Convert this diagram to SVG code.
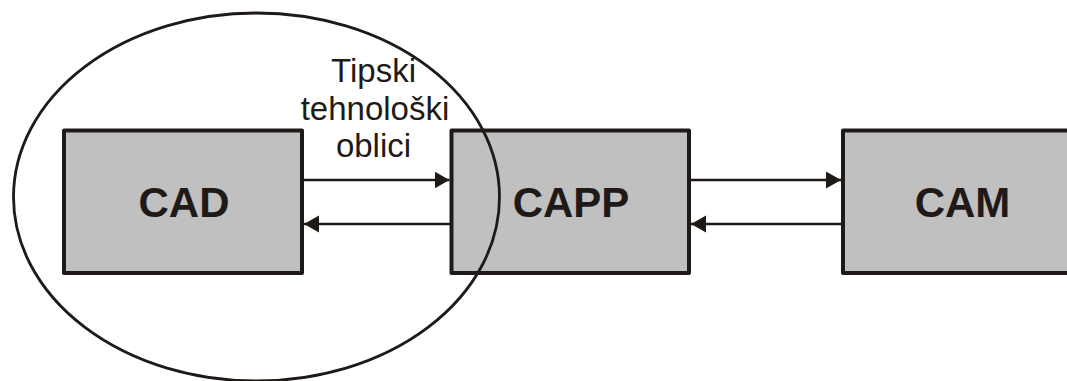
<svg xmlns="http://www.w3.org/2000/svg" width="1067" height="381" viewBox="0 0 1067 381">
  <style>
    .box { fill: #c0c0c0; stroke: #1f1a17; stroke-width: 4; stroke-linejoin: round; }
    .title { font-family: "Liberation Sans", Arial, sans-serif; font-weight: bold; font-size: 42px; fill: #1f1a17; text-anchor: middle; }
    .label { font-family: "Liberation Sans", Arial, sans-serif; font-size: 33px; fill: #1f1a17; text-anchor: middle; }
    .link { fill: none; stroke: #1f1a17; stroke-width: 2.6; marker-end: url(#head); }
    .scope { fill: none; stroke: #1f1a17; stroke-width: 2.8; }
  </style>
  <defs>
    <marker id="head" markerUnits="userSpaceOnUse" markerWidth="16" markerHeight="18" refX="15" refY="8.5" orient="auto">
      <path d="M0,0 L15,8.5 L0,17 Z" fill="#1f1a17"/>
    </marker>
  </defs>
  <rect width="1067" height="381" fill="#ffffff"/>

  <g id="cad">
    <rect class="box" x="64" y="130.5" width="238" height="142.5"/>
    <text class="title" x="184" y="217">CAD</text>
  </g>

  <g id="capp">
    <rect class="box" x="451.5" y="130.5" width="237.5" height="142.5"/>
    <text class="title" x="571" y="216.5">CAPP</text>
  </g>

  <g id="cam">
    <rect class="box" x="843" y="130.5" width="240" height="142.5"/>
    <text class="title" x="962.5" y="216.5">CAM</text>
  </g>

  <g id="connectors">
    <line class="link" x1="302" y1="180" x2="449.5" y2="180"/>
    <line class="link" x1="451.5" y1="224" x2="304" y2="224"/>
    <line class="link" x1="689" y1="180" x2="841" y2="180"/>
    <line class="link" x1="843" y1="224" x2="691" y2="224"/>
  </g>

  <g id="label">
    <text class="label" x="373.5" y="82">Tipski</text>
    <text class="label" x="375" y="119.5">tehnološki</text>
    <text class="label" x="373.5" y="157">oblici</text>
  </g>

  <g id="scope">
    <ellipse class="scope" cx="256.5" cy="197" rx="243" ry="184"/>
  </g>
</svg>
